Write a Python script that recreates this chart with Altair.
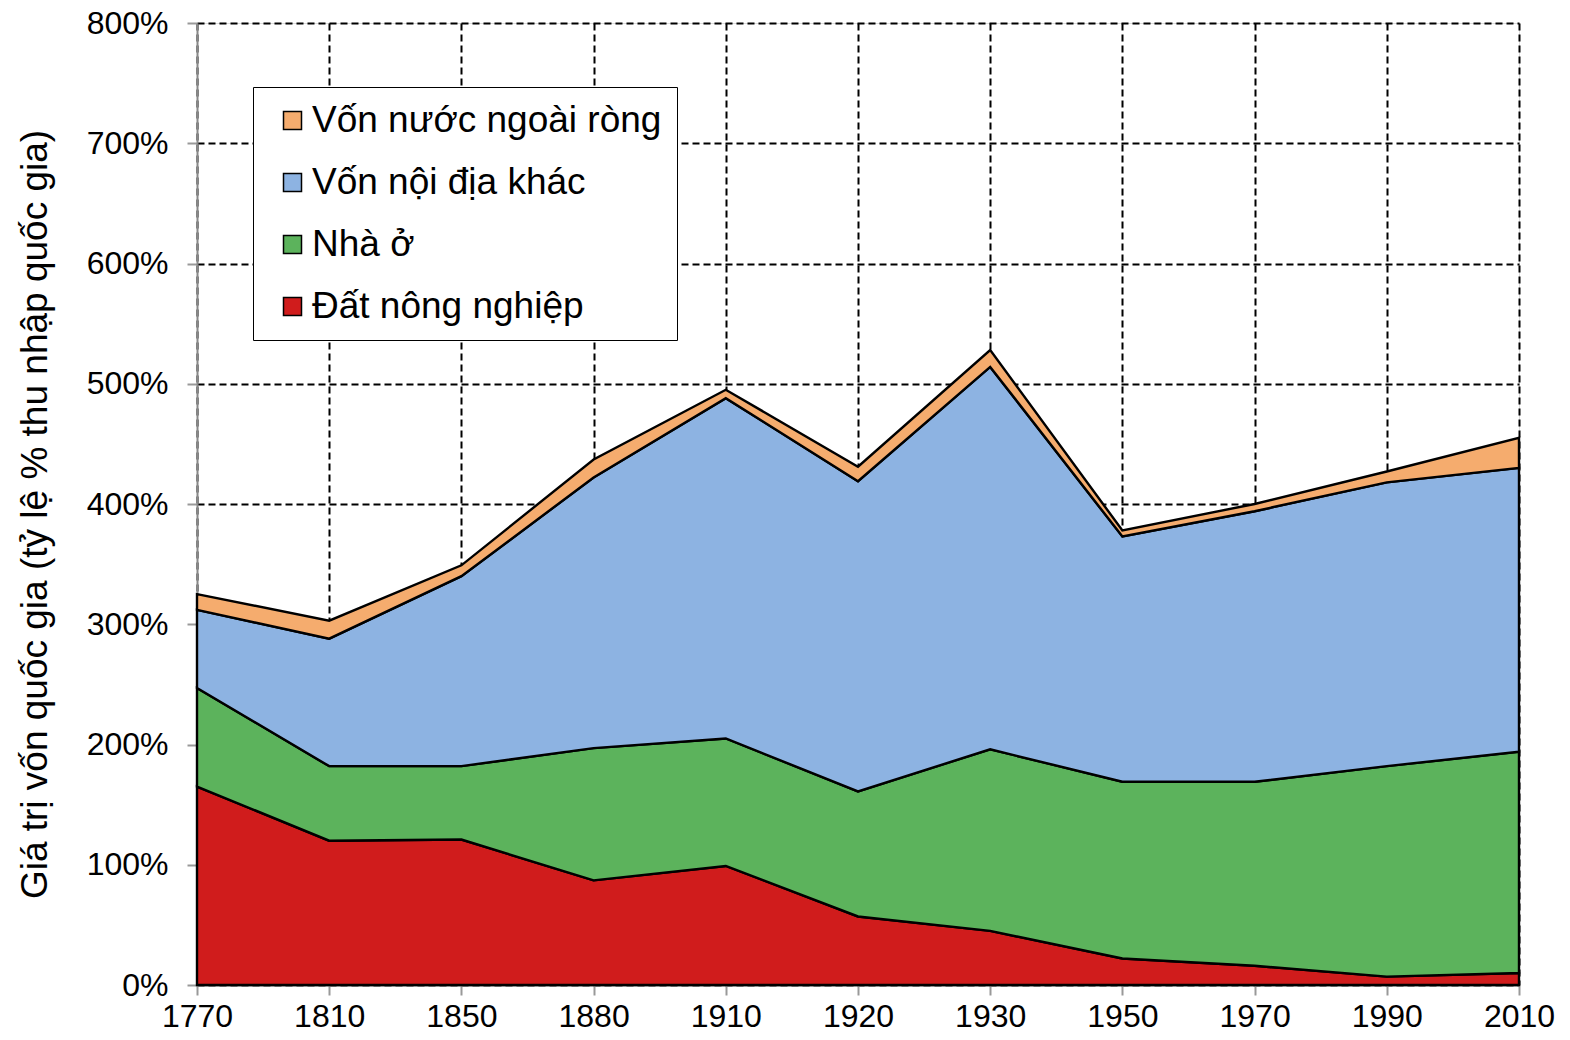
import altair as alt
import pandas as pd

years = ["1770", "1810", "1850", "1880", "1910", "1920", "1930", "1950", "1970", "1990", "2010"]

# component values (share of national income, 1.0 = 100%)
land = [1.65, 1.20, 1.21, 0.87, 0.99, 0.57, 0.45, 0.22, 0.16, 0.07, 0.10]
housing = [0.82, 0.62, 0.61, 1.10, 1.06, 1.04, 1.51, 1.47, 1.53, 1.75, 1.84]
domestic = [0.65, 1.06, 1.58, 2.25, 2.83, 2.58, 3.18, 2.04, 2.25, 2.36, 2.36]
foreign = [0.13, 0.15, 0.09, 0.15, 0.07, 0.12, 0.14, 0.05, 0.06, 0.09, 0.25]

series_names = ["Đất nông nghiệp", "Nhà ở", "Vốn nội địa khác", "Vốn nước ngoài ròng"]
series_colors = ["#d01c1c", "#5cb35c", "#8db3e2", "#f5ac6e"]

y_ticks = [0, 1, 2, 3, 4, 5, 6, 7, 8]

rows = []
for s_i, (name, vals) in enumerate(zip(series_names, [land, housing, domestic, foreign])):
    for i, (yr, v) in enumerate(zip(years, vals)):
        rows.append({"idx": i, "year": yr, "series": name, "stackorder": s_i, "value": v})
df = pd.DataFrame(rows)

legend_order = series_names[::-1]
legend_colors = series_colors[::-1]

label_expr = "[" + ",".join(f"'{y}'" for y in years) + "][datum.value]"

FONT = "Liberation Sans"

chart = (
    alt.Chart(df)
    .mark_area(stroke="black", strokeWidth=2.4, opacity=1, strokeJoin="miter")
    .encode(
        x=alt.X(
            "idx:Q",
            scale=alt.Scale(domain=[0, len(years) - 1], nice=False, zero=False),
            axis=alt.Axis(
                values=list(range(len(years))),
                labelExpr=label_expr,
                labelFlush=False,
                labelOverlap=False,
                labelBound=False,
                title=None,
                grid=True,
                gridColor="black",
                gridDash=[7, 4],
                gridWidth=2,
                tickSize=10,
                tickColor="#999999",
                tickWidth=2,
                domainColor="#888888",
                domainWidth=2,
                labelFontSize=32,
                labelColor="black",
                labelPadding=6,
                labelFont=FONT,
            ),
        ),
        y=alt.Y(
            "value:Q",
            stack="zero",
            scale=alt.Scale(domain=[0, 8], nice=False),
            axis=alt.Axis(
                values=y_ticks,
                format="%",
                labelFlush=False,
                labelOverlap=False,
                title="Giá trị vốn quốc gia (tỷ lệ % thu nhập quốc gia)",
                titleFontSize=37,
                titleFontWeight="normal",
                titleFont=FONT,
                titleColor="black",
                titlePadding=32,
                titleY=491,
                grid=True,
                gridColor="black",
                gridDash=[7, 4],
                gridWidth=2,
                tickSize=10,
                tickColor="#999999",
                tickWidth=2,
                domainColor="#888888",
                domainWidth=2,
                labelFontSize=32,
                labelColor="black",
                labelPadding=19,
                labelFont=FONT,
            ),
        ),
        color=alt.Color(
            "series:N",
            scale=alt.Scale(domain=legend_order, range=legend_colors),
            legend=alt.Legend(
                title=None,
                orient="none",
                legendX=56,
                legendY=64,
                fillColor="white",
                strokeColor="black",
                padding=15,
                symbolOffset=6,
                symbolType="square",
                symbolSize=324,
                symbolStrokeColor="black",
                symbolStrokeWidth=1.5,
                symbolOpacity=1,
                labelFontSize=37,
                labelFont=FONT,
                labelColor="black",
                labelOffset=1,
                labelLimit=600,
                labelExpr="datum.label + '\u00a0'",
                rowPadding=24,
            ),
        ),
        order=alt.Order("stackorder:Q", sort="ascending"),
    )
    .properties(
        width=1322,
        height=962,
        autosize=alt.AutoSizeParams(type="none"),
        padding={"left": 189, "top": 15, "right": 37, "bottom": 52},
    )
    .configure_view(stroke="black", strokeWidth=2)
    .configure(font=FONT)
)

chart.save("out.html", embed_options={"renderer": "svg", "actions": False})
